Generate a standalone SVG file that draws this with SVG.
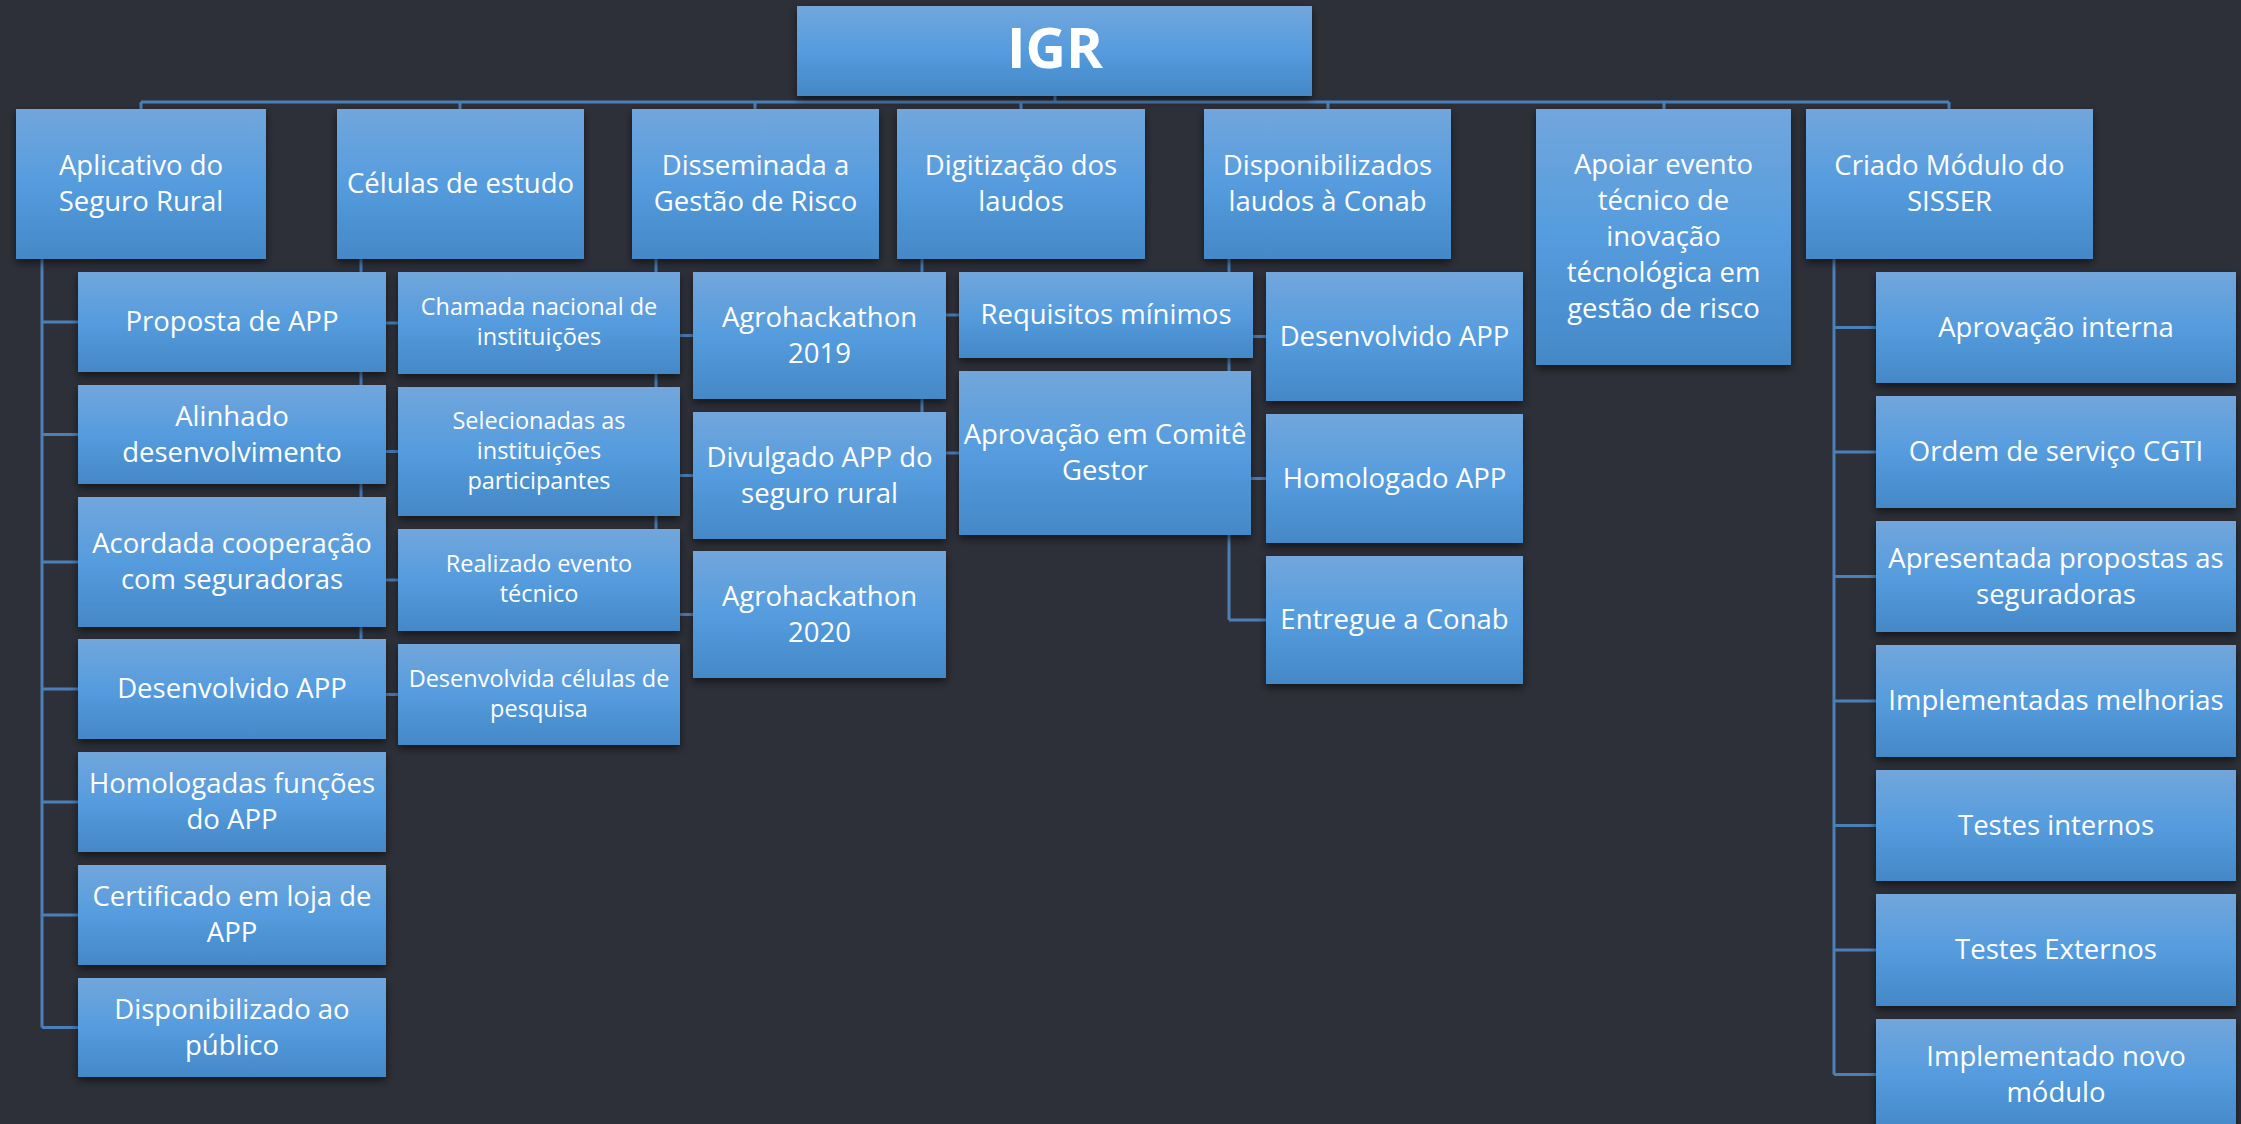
<svg xmlns="http://www.w3.org/2000/svg" width="2241" height="1124" viewBox="0 0 2241 1124">
<defs>
<linearGradient id="g" x1="0" y1="0" x2="0" y2="1">
<stop offset="0" stop-color="#72a6dc"/>
<stop offset="0.5" stop-color="#559cde"/>
<stop offset="1" stop-color="#4488c7"/>
</linearGradient>
<filter id="sh" x="-10%" y="-10%" width="120%" height="130%">
<feDropShadow dx="0" dy="4" stdDeviation="4" flood-color="#000" flood-opacity="0.55"/>
</filter>
</defs>
<style>
.bg{fill:#2e3039}
.box{fill:url(#g);filter:url(#sh)}
.t{font-family:"Open Sans","DejaVu Sans",sans-serif;font-size:27.5px;fill:#fff;text-anchor:middle;transform:translateY(-1px)}
.s{font-size:23.5px}
.title{font-size:56px;font-weight:bold}
.c{fill:none;stroke:#4a7fb8;stroke-width:3}
</style>
<rect class="bg" x="0" y="0" width="2241" height="1124"/>
<g id="connectors">
<path class="c" d="M1055 96V102M141 102H1949M141 102V109M460 102V109M755 102V109M1021 102V109M1328 102V109M1664 102V109M1949 102V109"/>
<path class="c" d="M42 259V1027.5M42 322H78M42 434.5H78M42 562H78M42 689H78M42 802H78M42 915H78M42 1027.5H78"/>
<path class="c" d="M361 259V694.5M361 323H398M361 451.5H398M361 580H398M361 694.5H398"/>
<path class="c" d="M656 259V614.5M656 335.5H693M656 475.5H693M656 614.5H693"/>
<path class="c" d="M922 259V453M922 315H959M922 453H959"/>
<path class="c" d="M1229 259V620M1229 336.5H1266M1229 478.5H1266M1229 620H1266"/>
<path class="c" d="M1834 259V1074.5M1834 327.5H1876M1834 452H1876M1834 576.5H1876M1834 701H1876M1834 825.5H1876M1834 950H1876M1834 1074.5H1876"/>
</g>
<g id="n-igr"><rect class="box" x="797" y="6" width="515" height="90"/><text class="t title" x="1055" y="69">IGR</text></g>
<g id="n-aplicativo"><rect class="box" x="16" y="109" width="250" height="150"/><text class="t" x="141" y="176">Aplicativo do</text><text class="t" x="141" y="212">Seguro Rural</text></g>
<g id="n-celulas"><rect class="box" x="337" y="109" width="247" height="150"/><text class="t" x="460.5" y="194">Células de estudo</text></g>
<g id="n-disseminada"><rect class="box" x="632" y="109" width="247" height="150"/><text class="t" x="755.5" y="176">Disseminada a</text><text class="t" x="755.5" y="212">Gestão de Risco</text></g>
<g id="n-digitizacao"><rect class="box" x="897" y="109" width="248" height="150"/><text class="t" x="1021" y="176">Digitização dos</text><text class="t" x="1021" y="212">laudos</text></g>
<g id="n-disponibilizados"><rect class="box" x="1204" y="109" width="247" height="150"/><text class="t" x="1327.5" y="176">Disponibilizados</text><text class="t" x="1327.5" y="212">laudos à Conab</text></g>
<g id="n-apoiar"><rect class="box" x="1536" y="109" width="255" height="256"/><text class="t" x="1663.5" y="175">Apoiar evento</text><text class="t" x="1663.5" y="211">técnico de</text><text class="t" x="1663.5" y="247">inovação</text><text class="t" x="1663.5" y="283">técnológica em</text><text class="t" x="1663.5" y="319">gestão de risco</text></g>
<g id="n-criado"><rect class="box" x="1806" y="109" width="287" height="150"/><text class="t" x="1949.5" y="176">Criado Módulo do</text><text class="t" x="1949.5" y="212">SISSER</text></g>
<g id="n-proposta"><rect class="box" x="78" y="272" width="308" height="100"/><text class="t" x="232" y="332">Proposta de APP</text></g>
<g id="n-alinhado"><rect class="box" x="78" y="385" width="308" height="99"/><text class="t" x="232" y="426.5">Alinhado</text><text class="t" x="232" y="462.5">desenvolvimento</text></g>
<g id="n-acordada"><rect class="box" x="78" y="497" width="308" height="130"/><text class="t" x="232" y="554">Acordada cooperação</text><text class="t" x="232" y="590">com seguradoras</text></g>
<g id="n-desenvolvido1"><rect class="box" x="78" y="639" width="308" height="100"/><text class="t" x="232" y="699">Desenvolvido APP</text></g>
<g id="n-homologadas"><rect class="box" x="78" y="752" width="308" height="100"/><text class="t" x="232" y="794">Homologadas funções</text><text class="t" x="232" y="830">do APP</text></g>
<g id="n-certificado"><rect class="box" x="78" y="865" width="308" height="100"/><text class="t" x="232" y="907">Certificado em loja de</text><text class="t" x="232" y="943">APP</text></g>
<g id="n-disponibilizado"><rect class="box" x="78" y="978" width="308" height="99"/><text class="t" x="232" y="1019.5">Disponibilizado ao</text><text class="t" x="232" y="1055.5">público</text></g>
<g id="n-chamada"><rect class="box" x="398" y="272" width="282" height="102"/><text class="t s" x="539" y="316">Chamada nacional de</text><text class="t s" x="539" y="346">instituições</text></g>
<g id="n-selecionadas"><rect class="box" x="398" y="387" width="282" height="129"/><text class="t s" x="539" y="429.5">Selecionadas as</text><text class="t s" x="539" y="459.5">instituições</text><text class="t s" x="539" y="489.5">participantes</text></g>
<g id="n-realizado"><rect class="box" x="398" y="529" width="282" height="102"/><text class="t s" x="539" y="573">Realizado evento</text><text class="t s" x="539" y="603">técnico</text></g>
<g id="n-desenvolvida"><rect class="box" x="398" y="644" width="282" height="101"/><text class="t s" x="539" y="687.5">Desenvolvida células de</text><text class="t s" x="539" y="717.5">pesquisa</text></g>
<g id="n-agro2019"><rect class="box" x="693" y="272" width="253" height="127"/><text class="t" x="819.5" y="327.5">Agrohackathon</text><text class="t" x="819.5" y="363.5">2019</text></g>
<g id="n-divulgado"><rect class="box" x="693" y="412" width="253" height="127"/><text class="t" x="819.5" y="467.5">Divulgado APP do</text><text class="t" x="819.5" y="503.5">seguro rural</text></g>
<g id="n-agro2020"><rect class="box" x="693" y="551" width="253" height="127"/><text class="t" x="819.5" y="606.5">Agrohackathon</text><text class="t" x="819.5" y="642.5">2020</text></g>
<g id="n-requisitos"><rect class="box" x="959" y="272" width="294" height="86"/><text class="t" x="1106" y="325">Requisitos mínimos</text></g>
<g id="n-aprovacao-comite"><rect class="box" x="959" y="371" width="292" height="164"/><text class="t" x="1105" y="445">Aprovação em Comitê</text><text class="t" x="1105" y="481">Gestor</text></g>
<g id="n-desenvolvido2"><rect class="box" x="1266" y="272" width="257" height="129"/><text class="t" x="1394.5" y="346.5">Desenvolvido APP</text></g>
<g id="n-homologado"><rect class="box" x="1266" y="414" width="257" height="129"/><text class="t" x="1394.5" y="488.5">Homologado APP</text></g>
<g id="n-entregue"><rect class="box" x="1266" y="556" width="257" height="128"/><text class="t" x="1394.5" y="630">Entregue a Conab</text></g>
<g id="n-aprovacao-interna"><rect class="box" x="1876" y="272" width="360" height="111"/><text class="t" x="2056" y="337.5">Aprovação interna</text></g>
<g id="n-ordem"><rect class="box" x="1876" y="396" width="360" height="112"/><text class="t" x="2056" y="462">Ordem de serviço CGTI</text></g>
<g id="n-apresentada"><rect class="box" x="1876" y="521" width="360" height="111"/><text class="t" x="2056" y="568.5">Apresentada propostas as</text><text class="t" x="2056" y="604.5">seguradoras</text></g>
<g id="n-implementadas"><rect class="box" x="1876" y="645" width="360" height="112"/><text class="t" x="2056" y="711">Implementadas melhorias</text></g>
<g id="n-testes-internos"><rect class="box" x="1876" y="770" width="360" height="111"/><text class="t" x="2056" y="835.5">Testes internos</text></g>
<g id="n-testes-externos"><rect class="box" x="1876" y="894" width="360" height="112"/><text class="t" x="2056" y="960">Testes Externos</text></g>
<g id="n-implementado"><rect class="box" x="1876" y="1019" width="360" height="111"/><text class="t" x="2056" y="1066.5">Implementado novo</text><text class="t" x="2056" y="1102.5">módulo</text></g>
</svg>
